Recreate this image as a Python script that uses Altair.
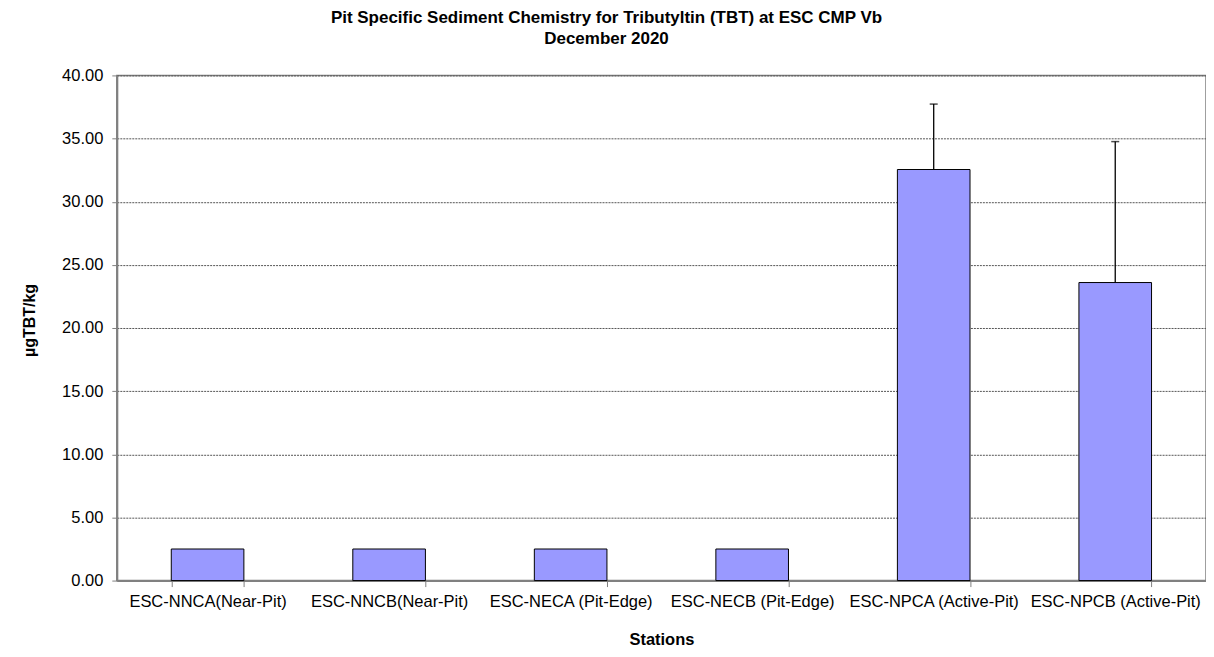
import altair as alt
import pandas as pd

stations = ["ESC-NNCA(Near-Pit)", "ESC-NNCB(Near-Pit)", "ESC-NECA (Pit-Edge)",
            "ESC-NECB (Pit-Edge)", "ESC-NPCA (Active-Pit)", "ESC-NPCB (Active-Pit)"]
values = [2.5, 2.5, 2.5, 2.5, 32.55, 23.6]
err_stations = ["ESC-NPCA (Active-Pit)", "ESC-NPCB (Active-Pit)"]
err_low = [32.55, 23.6]
err_high = [37.73, 34.76]
y_ticks = [0, 5, 10, 15, 20, 25, 30, 35, 40]

df = pd.DataFrame({"station": stations, "value": values})
edf = pd.DataFrame({"station": err_stations, "lo": err_low, "hi": err_high})

xscale = alt.Scale(domain=stations, paddingInner=0.6, paddingOuter=0.3)
yscale = alt.Scale(domain=[0, 40], nice=False)

x_enc = alt.X("station:N", sort=stations, scale=xscale, title="Stations",
              axis=alt.Axis(labelAngle=0, tickBand="extent", tickSize=6, tickColor="#808080",
                            domainColor="#808080", domainWidth=2, labelPadding=7,
                            labelFontSize=16.5, labelColor="#000", labelOverlap=False,
                            titleFontSize=16.5, titleFontWeight="bold", titlePadding=22,
                            titleColor="#000"))
y_enc = alt.Y("value:Q", scale=yscale, title="µgTBT/kg",
              axis=alt.Axis(values=y_ticks, format=".2f", tickSize=5, tickColor="#808080",
                            domainColor="#808080", domainWidth=2, labelPadding=9,
                            labelFontSize=16.5, labelColor="#000", grid=True,
                            gridColor="#555", gridDash=[2, 1], gridWidth=1,
                            titleFontSize=16, titleFontWeight="bold", titlePadding=24,
                            titleY=245, titleColor="#000"))

bars = alt.Chart(df).mark_bar(color="#9999FF", stroke="#000", strokeWidth=1).encode(
    x=x_enc, y=y_enc)

rule = alt.Chart(edf).mark_rule(color="#000", strokeWidth=1.3).encode(
    x=alt.X("station:N", sort=stations, scale=xscale),
    y=alt.Y("lo:Q", scale=yscale), y2="hi:Q")

cap = alt.Chart(edf).mark_tick(color="#000", size=8, thickness=1.5).encode(
    x=alt.X("station:N", sort=stations, scale=xscale),
    y=alt.Y("hi:Q", scale=yscale))

chart = alt.layer(bars, rule, cap).properties(
    width=1091, height=506,
    title=alt.TitleParams(
        text=["Pit Specific Sediment Chemistry for Tributyltin (TBT) at  ESC CMP Vb",
              "December 2020"],
        fontSize=17, fontWeight="bold", anchor="middle", dx=-55, offset=19,
        lineHeight=22, color="#000"),
    autosize=alt.AutoSizeParams(type="none"),
    padding={"left": 109, "top": 67, "right": 0, "bottom": 66},
).configure(font="Liberation Sans").configure_view(stroke="#808080", strokeWidth=1.5)

chart.save("out.html", embed_options={"renderer": "svg", "actions": False})
